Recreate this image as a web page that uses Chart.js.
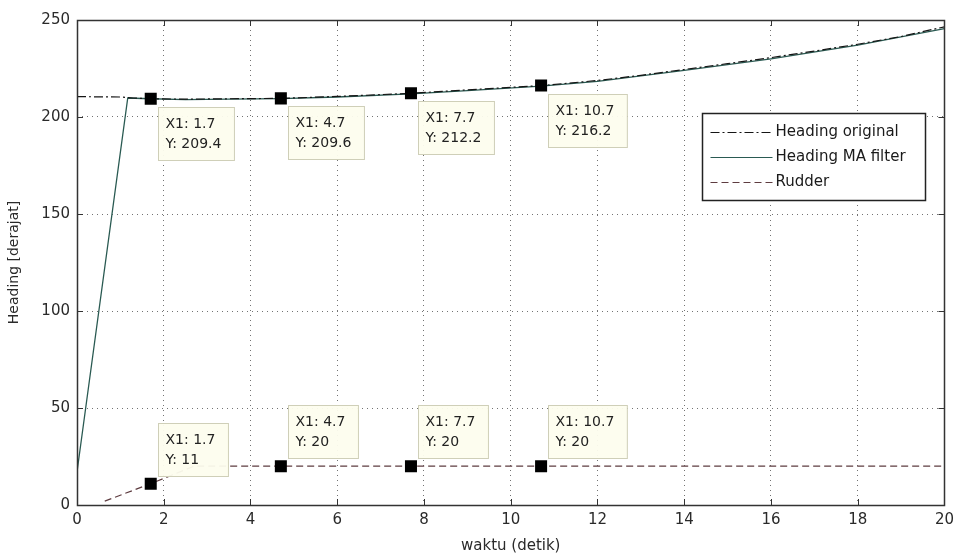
<!DOCTYPE html>
<html>
<head>
<meta charset="utf-8">
<script src="https://cdn.jsdelivr.net/npm/chart.js@4.4.0/dist/chart.umd.min.js"></script>
<style>
  html, body { margin: 0; padding: 0; background: #fff; }
</style>
</head>
<body>
<canvas id="myChart" width="960" height="558"></canvas>
<script>
// datos
const waktuOriginal = [0, 0.5, 1.0, 1.3, 1.7, 2.5, 3.5, 4.7, 6.0, 7.7, 9.0, 10.7, 12.0, 13.0, 14.0, 15.0, 16.0, 17.0, 18.0, 19.0, 20.0];
const headingOriginal = [210.5, 210.4, 210.3, 209.8, 209.4, 209.2, 209.4, 209.6, 210.6, 212.2, 214.0, 216.2, 218.8, 221.5, 224.5, 227.5, 230.6, 234.0, 237.5, 241.5, 246.5];

const waktuFilter = [0, 1.17, 1.7, 2.5, 3.5, 4.7, 6.0, 7.7, 9.0, 10.7, 12.0, 14.0, 16.0, 18.0, 20.0];
const headingFilter = [17, 209.8, 209.4, 209.0, 209.2, 209.5, 210.3, 211.9, 213.6, 215.9, 218.4, 224.0, 230.0, 237.0, 245.5];

const waktuRudder = [0.64, 1.7, 2.7, 20];
const rudder = [2, 11, 20, 20];

// data tips
const tipWaktu = [1.7, 4.7, 7.7, 10.7, 1.7, 4.7, 7.7, 10.7];
const tipNilai = [209.4, 209.6, 212.2, 216.2, 11, 20, 20, 20];

const xTicks = [0, 2, 4, 6, 8, 10, 12, 14, 16, 18, 20];
const yTicks = [0, 50, 100, 150, 200, 250];

const labels = ['Heading original', 'Heading MA filter', 'Rudder'];

const toPoints = (xs, ys) => xs.map((x, i) => ({ x: x, y: ys[i] }));

const FONT = 'DejaVu Sans';

const colorOriginal = '#151515';
const colorFilter = '#2a5a52';
const colorRudder = '#5e3c40';

const dashOriginal = [9, 3, 2, 3];
const dashRudder = [7, 4];

// ticks hacia adentro + borde de la caja
const boxPlugin = {
    id: 'boxPlugin',
    afterDraw(chart) {
        const ctx = chart.ctx;
        const a = chart.chartArea;
        const xs = chart.scales.x;
        const ys = chart.scales.y;
        ctx.save();
        ctx.strokeStyle = '#333';
        ctx.lineWidth = 1;
        ctx.setLineDash([]);
        ctx.beginPath();
        xTicks.forEach(v => {
            const px = Math.round(xs.getPixelForValue(v)) + 0.5;
            ctx.moveTo(px, a.bottom); ctx.lineTo(px, a.bottom - 6);
            ctx.moveTo(px, a.top); ctx.lineTo(px, a.top + 6);
        });
        yTicks.forEach(v => {
            const py = Math.round(ys.getPixelForValue(v)) + 0.5;
            ctx.moveTo(a.left, py); ctx.lineTo(a.left + 6, py);
            ctx.moveTo(a.right, py); ctx.lineTo(a.right - 6, py);
        });
        ctx.stroke();
        ctx.lineWidth = 1.5;
        ctx.strokeRect(Math.round(a.left) + 0.5, Math.round(a.top) + 0.5, Math.round(a.right - a.left), Math.round(a.bottom - a.top));
        ctx.restore();
    }
};

// cajas de los data tips
const tipPlugin = {
    id: 'tipPlugin',
    afterDatasetsDraw(chart) {
        const ctx = chart.ctx;
        const xs = chart.scales.x;
        const ys = chart.scales.y;
        ctx.save();
        ctx.font = '14px "' + FONT + '"';
        ctx.textBaseline = 'middle';
        tipWaktu.forEach((x, i) => {
            const px = xs.getPixelForValue(x);
            const py = ys.getPixelForValue(tipNilai[i]);
            const l1 = 'X1: ' + x;
            const l2 = 'Y: ' + tipNilai[i];
            const w = Math.max(ctx.measureText(l1).width, ctx.measureText(l2).width) + 20;
            const h = 53;
            const bx = Math.round(px + 7) + 0.5;
            // arriba del punto para el rudder, abajo para el heading
            const by = tipNilai[i] > 100 ? Math.round(py + 8) + 0.5 : Math.round(py - 8 - h) + 0.5;
            ctx.fillStyle = 'rgba(253,253,238,0.95)';
            ctx.fillRect(bx, by, w, h);
            ctx.strokeStyle = '#cfcfb8';
            ctx.lineWidth = 1;
            ctx.setLineDash([]);
            ctx.strokeRect(bx, by, w, h);
            ctx.fillStyle = '#222';
            ctx.fillText(l1, bx + 7, by + 17);
            ctx.fillText(l2, bx + 7, by + 37);
        });
        ctx.restore();
    }
};

// leyenda dentro del area
const legendPlugin = {
    id: 'legendPlugin',
    afterDraw(chart) {
        const ctx = chart.ctx;
        const x0 = 702.5, y0 = 113.5, w = 223, h = 87;
        ctx.save();
        ctx.fillStyle = '#fff';
        ctx.fillRect(x0, y0, w, h);
        ctx.strokeStyle = '#222';
        ctx.lineWidth = 1.5;
        ctx.strokeRect(x0, y0, w, h);
        const estilos = [
            { color: colorOriginal, dash: dashOriginal },
            { color: colorFilter, dash: [] },
            { color: colorRudder, dash: dashRudder }
        ];
        ctx.font = '15px "' + FONT + '"';
        ctx.textBaseline = 'middle';
        labels.forEach((t, i) => {
            const y = y0 + 19 + i * 25;
            ctx.strokeStyle = estilos[i].color;
            ctx.setLineDash(estilos[i].dash);
            ctx.lineWidth = 1.2;
            ctx.beginPath();
            ctx.moveTo(x0 + 8, y);
            ctx.lineTo(x0 + 70, y);
            ctx.stroke();
            ctx.fillStyle = '#1a1a1a';
            ctx.fillText(t, x0 + 73, y);
        });
        ctx.restore();
    }
};

const config = {
    type: 'line',
    data: {
        datasets: [
            {
                label: labels[0],
                data: toPoints(waktuOriginal, headingOriginal),
                borderColor: colorOriginal,
                borderWidth: 1.2,
                borderDash: dashOriginal,
                pointRadius: 0,
                fill: false,
                order: 2
            },
            {
                label: labels[1],
                data: toPoints(waktuFilter, headingFilter),
                borderColor: colorFilter,
                borderWidth: 1.3,
                pointRadius: 0,
                fill: false,
                order: 3
            },
            {
                label: labels[2],
                data: toPoints(waktuRudder, rudder),
                borderColor: colorRudder,
                borderWidth: 1.2,
                borderDash: dashRudder,
                pointRadius: 0,
                fill: false,
                order: 1
            },
            {
                label: 'tips',
                type: 'scatter',
                data: toPoints(tipWaktu, tipNilai),
                pointStyle: 'rect',
                pointRadius: 8.5,
                backgroundColor: '#000',
                borderColor: '#000',
                borderWidth: 0,
                order: 0
            }
        ]
    },
    options: {
        responsive: false,
        animation: false,
        devicePixelRatio: 1,
        layout: { padding: { left: 0, right: 13, top: 20, bottom: 0 } },
        plugins: {
            legend: { display: false },
            tooltip: { enabled: false }
        },
        scales: {
            x: {
                type: 'linear',
                min: 0,
                max: 20,
                afterBuildTicks: (s) => { s.ticks = xTicks.map(v => ({ value: v })); },
                afterFit: (s) => { s.height = 53; },
                grid: { color: 'rgba(0,0,0,0.55)', drawTicks: false },
                border: { display: false, dash: [1, 4] },
                ticks: {
                    color: '#2a2a2a',
                    font: { family: FONT, size: 15 },
                    padding: 6,
                    maxRotation: 0
                },
                title: {
                    display: true,
                    text: 'waktu (detik)',
                    color: '#2a2a2a',
                    font: { family: FONT, size: 15 },
                    padding: { top: 0, bottom: 3 }
                }
            },
            y: {
                type: 'linear',
                min: 0,
                max: 250,
                afterBuildTicks: (s) => { s.ticks = yTicks.map(v => ({ value: v })); },
                afterFit: (s) => { s.width = 77; },
                grid: { color: 'rgba(0,0,0,0.55)', drawTicks: false },
                border: { display: false, dash: [1, 4] },
                ticks: {
                    color: '#2a2a2a',
                    font: { family: FONT, size: 15 },
                    padding: 7
                },
                title: {
                    display: true,
                    text: 'Heading [derajat]',
                    color: '#2a2a2a',
                    font: { family: FONT, size: 14 },
                    padding: { top: 6, bottom: 0 }
                }
            }
        }
    },
    plugins: [boxPlugin, tipPlugin, legendPlugin]
};

const myChart = document.getElementById('myChart').getContext('2d');
const chartInstance = new Chart(myChart, config);
</script>
</body>
</html>
